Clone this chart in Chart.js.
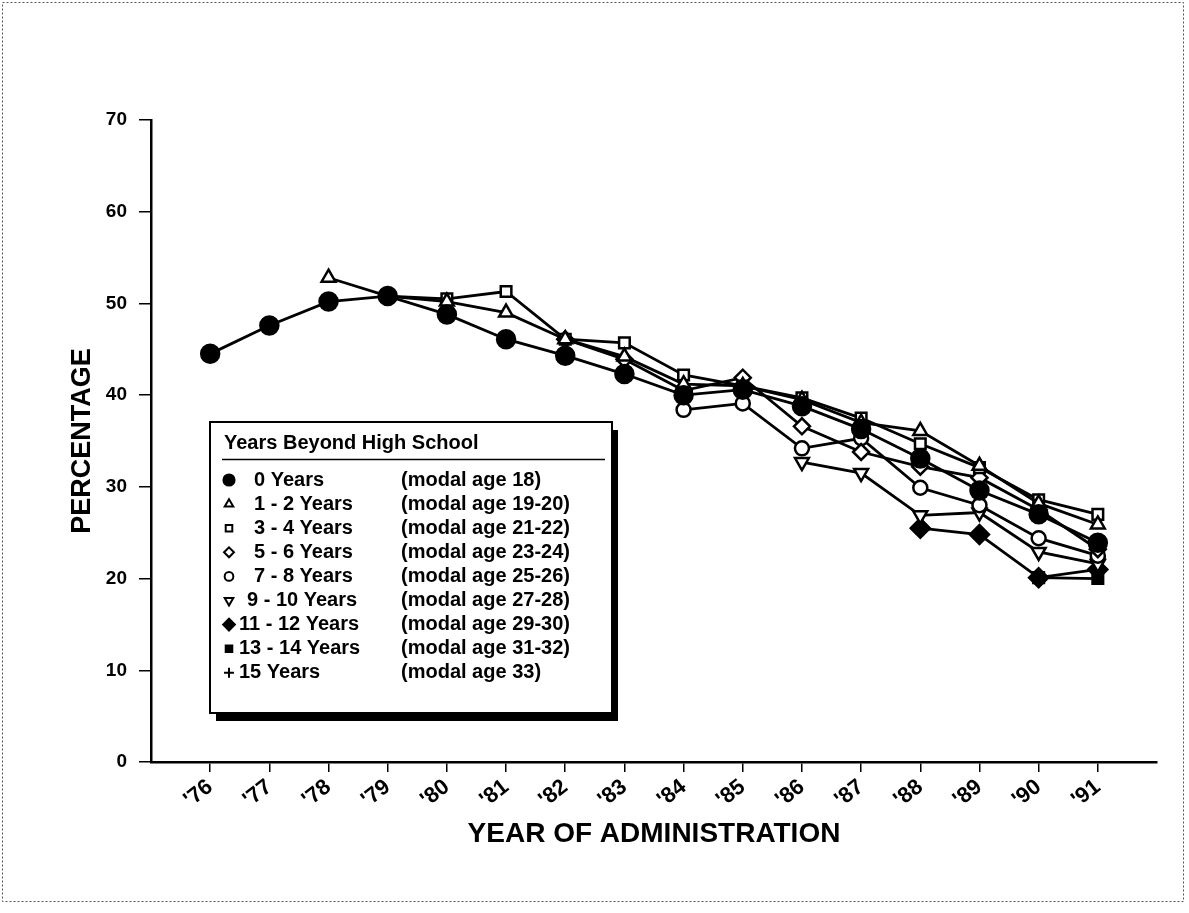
<!DOCTYPE html>
<html><head><meta charset="utf-8">
<script src="https://cdn.jsdelivr.net/npm/chart.js@4.4.1/dist/chart.umd.min.js"></script>
<style>html,body{margin:0;padding:0;background:#fff;}canvas{display:block;}</style>
</head><body>
<canvas id="c" width="1189" height="913"></canvas>
<script>
const years = ["'76","'77","'78","'79","'80","'81","'82","'83","'84","'85","'86","'87","'88","'89","'90","'91"];
const yTicks = [0,10,20,30,40,50,60,70];
const legendTitle = "Years Beyond High School";
const seriesNames = ["0 Years","1 - 2 Years","3 - 4 Years","5 - 6 Years","7 - 8 Years","9 - 10 Years","11 - 12 Years","13 - 14 Years","15 Years"];
const modalAges = ["(modal age 18)","(modal age 19-20)","(modal age 21-22)","(modal age 23-24)","(modal age 25-26)","(modal age 27-28)","(modal age 29-30)","(modal age 31-32)","(modal age 33)"];
const yTitle = "PERCENTAGE";
const xTitle = "YEAR OF ADMINISTRATION";

const y0  = [44.5,47.6,50.2,50.8,48.8,46.1,44.3,42.3,40.0,40.6,38.8,36.3,33.1,29.6,27.0,23.9];
const y12 = [null,null,52.8,50.8,50.2,49.0,46.1,44.2,41.2,41.0,39.5,37.0,36.1,32.3,28.2,25.9];
const y34 = [null,null,null,50.8,50.5,51.3,46.1,45.7,42.2,41.0,39.7,37.5,34.7,32.1,28.6,27.0];
const y56 = [null,null,null,null,null,null,46.1,43.9,40.5,41.9,36.6,33.8,32.2,31.0,27.5,23.2];
const y78 = [null,null,null,null,null,null,null,null,38.4,39.1,34.2,35.3,29.9,28.0,24.4,22.5];
const y910 = [null,null,null,null,null,null,null,null,null,null,32.7,31.5,26.9,27.2,22.9,21.6];
const y1112 = [null,null,null,null,null,null,null,null,null,null,null,null,25.5,24.8,20.1,21.0];
const y1314 = [null,null,null,null,null,null,null,null,null,null,null,null,null,null,20.1,20.0];
const y15 = [null,null,null,null,null,null,null,null,null,null,null,null,null,null,null,22.3];

const allSeries = [y0,y12,y34,y56,y78,y910,y1112,y1314,y15];
const styles = [
  {pointStyle:'circle', rotation:0, fill:'#000', r:9},
  {pointStyle:'triangle', rotation:0, fill:'#fff', r:8},
  {pointStyle:'rect', rotation:0, fill:'#fff', r:7.5},
  {pointStyle:'rectRot', rotation:0, fill:'#fff', r:8},
  {pointStyle:'circle', rotation:0, fill:'#fff', r:7},
  {pointStyle:'triangle', rotation:180, fill:'#fff', r:8},
  {pointStyle:'rectRot', rotation:0, fill:'#000', r:9.5},
  {pointStyle:'rect', rotation:0, fill:'#000', r:7.5},
  {pointStyle:'cross', rotation:0, fill:'#000', r:8}
];
const FONT = '"Liberation Sans", Arial, sans-serif';

const datasets = allSeries.map((arr,i)=>({
  label: seriesNames[i],
  data: arr.map((v,k)=> v===null ? null : {x:k, y:v}).filter(p=>p!==null),
  borderColor:'#000',
  borderWidth:2.8,
  pointStyle: styles[i].pointStyle,
  pointRotation: styles[i].rotation,
  pointRadius: styles[i].r,
  pointBackgroundColor: styles[i].fill,
  pointBorderColor:'#000',
  pointBorderWidth: 2.5,
  tension:0,
  fill:false
}));

const framePlugin = {
  id:'frame',
  beforeDraw(chart){
    const ctx = chart.ctx;
    ctx.save();
    ctx.fillStyle='#fff'; ctx.fillRect(0,0,chart.width,chart.height);
    ctx.strokeStyle='#555'; ctx.lineWidth=1; ctx.setLineDash([2,2]);
    ctx.strokeRect(2.5,2.5,1181,899);
    ctx.restore();
  }
};

const legendPlugin = {
  id:'boxLegend',
  afterDraw(chart){
    const ctx = chart.ctx;
    const bx=210, by=422, bw=402, bh=291;
    ctx.save();
    ctx.fillStyle='#000'; ctx.fillRect(bx+6, by+8, bw, bh);
    ctx.fillStyle='#fff'; ctx.fillRect(bx, by, bw, bh);
    ctx.strokeStyle='#000'; ctx.lineWidth=2; ctx.strokeRect(bx, by, bw, bh);
    ctx.fillStyle='#000';
    ctx.font = 'bold 20px ' + FONT;
    ctx.textBaseline='middle'; ctx.textAlign='left';
    ctx.fillText(legendTitle, 224, 443);
    ctx.lineWidth=1.5; ctx.beginPath(); ctx.moveTo(222,459.5); ctx.lineTo(605,459.5); ctx.stroke();
    seriesNames.forEach((name,i)=>{
      const y = 480 + i*24.1;
      const st = styles[i];
      ctx.fillStyle = st.fill; ctx.strokeStyle='#000'; ctx.lineWidth=2;
      Chart.helpers.drawPoint(ctx, {pointStyle:st.pointStyle, rotation:st.rotation, radius: st.r*0.62, borderWidth:2}, 229, y);
      ctx.fillStyle='#000';
      const twoDigit = /^\d\d/.test(name);
      const hasTwoDigitEnd = /- \d\d/.test(name);
      const tx = twoDigit ? 239 : (hasTwoDigitEnd ? 247 : 254);
      ctx.fillText(name, tx, y);
      ctx.fillText(modalAges[i], 401, y);
    });
    ctx.restore();
  }
};

new Chart(document.getElementById('c'), {
  type:'line',
  data:{datasets},
  options:{
    responsive:false,
    animation:false,
    devicePixelRatio:1,
    layout:{padding:{top:120,right:32,left:0,bottom:0}},
    plugins:{legend:{display:false}, tooltip:{enabled:false}},
    scales:{
      x:{
        type:'linear', min:-1, max:16,
        afterBuildTicks(scale){ scale.ticks = years.map((y,i)=>({value:i})); },
        afterFit(scale){ scale.height = 151; },
        ticks:{
          autoSkip:false, minRotation:38, maxRotation:38, padding:2, color:'#000',
          font:{family:FONT, size:22, weight:'bold'},
          callback:(v)=> years[v] ?? ''
        },
        grid:{drawOnChartArea:false, drawTicks:true, tickLength:10, color:'#000', lineWidth:1.5},
        border:{display:true, color:'#000', width:2.5},
        title:{display:true, text:xTitle, color:'#000', font:{family:FONT, size:28, weight:'bold'}, padding:{top:0,bottom:62}}
      },
      y:{
        type:'linear', min:0, max:70,
        afterBuildTicks(scale){ scale.ticks = yTicks.map(v=>({value:v})); },
        afterFit(scale){ scale.width = 151; },
        ticks:{color:'#000', padding:12, font:{family:FONT, size:19, weight:'bold'}},
        grid:{drawOnChartArea:false, drawTicks:true, tickLength:12, color:'#000', lineWidth:1.5},
        border:{display:true, color:'#000', width:2.5},
        title:{display:true, text:yTitle, color:'#000', font:{family:FONT, size:27, weight:'bold'}, padding:{top:66,bottom:0}}
      }
    }
  },
  plugins:[framePlugin, legendPlugin]
});
</script>
</body></html>
